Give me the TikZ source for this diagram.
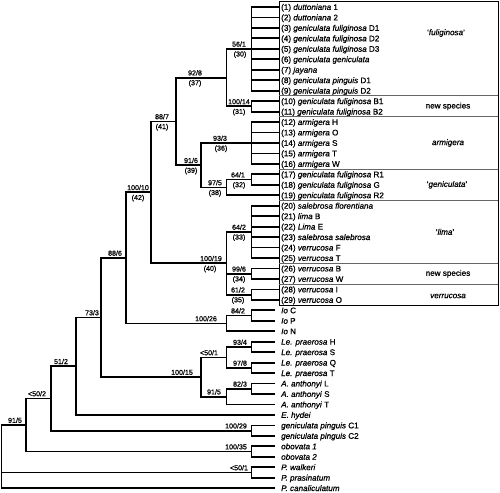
\documentclass[tikz,border=0pt]{standalone}
\usepackage{fontspec}
\setmainfont{Liberation Sans}[FakeBold=0.8]
\begin{document}
\begin{tikzpicture}[x=1pt,y=-10.46pt,
  br/.style={line width=1.8pt},
  tip/.style={anchor=west,inner xsep=2pt,inner ysep=0pt,text height=5.8pt,text depth=0pt,font=\fontsize{8.1}{9}\selectfont},
  otip/.style={tip,inner xsep=6pt},
  lab/.style={anchor=base,inner sep=0pt,font=\fontsize{7.1}{8}\selectfont},
  bs/.style={lab,yshift=2.2pt},
  bb/.style={lab,yshift=-7.6pt},
  grp/.style={font=\fontsize{8.1}{9}\selectfont},
  sep/.style={draw=black!60,line width=0.9pt}]
\useasboundingbox (0,0.3308) rectangle (500,47.3671);
% boxed ingroup
\foreach \i/\t in {1/{(1) \textit{duttoniana} 1}, 2/{(2) \textit{duttoniana} 2},
  3/{(3) \textit{geniculata fuliginosa} D1}, 4/{(4) \textit{geniculata fuliginosa} D2},
  5/{(5) \textit{geniculata fuliginosa} D3}, 6/{(6) \textit{geniculata geniculata}},
  7/{(7) \textit{jayana}}, 8/{(8) \textit{geniculata pinguis} D1},
  9/{(9) \textit{geniculata pinguis} D2}, 10/{(10) \textit{geniculata fuliginosa} B1},
  11/{(11) \textit{geniculata fuliginosa} B2}, 12/{(12) \textit{armigera} H},
  13/{(13) \textit{armigera} O}, 14/{(14) \textit{armigera} S},
  15/{(15) \textit{armigera} T}, 16/{(16) \textit{armigera} W},
  17/{(17) \textit{geniculata fuliginosa} R1}, 18/{(18) \textit{geniculata fuliginosa} G},
  19/{(19) \textit{geniculata fuliginosa} R2}, 20/{(20) \textit{salebrosa florentiana}},
  21/{(21) \textit{lima} B}, 22/{(22) \textit{Lima} E},
  23/{(23) \textit{salebrosa salebrosa}}, 24/{(24) \textit{verrucosa} F},
  25/{(25) \textit{verrucosa} T}, 26/{(26) \textit{verrucosa} B},
  27/{(27) \textit{verrucosa} W}, 28/{(28) \textit{verrucosa} I},
  29/{(29) \textit{verrucosa} O}}
  \node[tip] (l\i) at (279,\i) {\t};
% outgroups
\foreach \i/\t in {30/{\textit{Io} C}, 31/{\textit{Io} P}, 32/{\textit{Io} N},
  33/{\textit{Le. praerosa} H}, 34/{\textit{Le. praerosa} S},
  35/{\textit{Le. praerosa} Q}, 36/{\textit{Le. praerosa} T},
  37/{\textit{A. anthonyi} L}, 38/{\textit{A. anthonyi} S},
  39/{\textit{A. anthonyi} T}, 40/{\textit{E. hydei}},
  41/{\textit{geniculata pinguis} C1}, 42/{\textit{geniculata pinguis} C2},
  43/{\textit{obovata 1}}, 44/{\textit{obovata 2}},
  45/{\textit{P. walkeri}}, 46/{\textit{P. prasinatum}}, 47/{\textit{P. canaliculatum}}}
  \node[otip] (l\i) at (275,\i) {\t};

% internal nodes
\coordinate (fulig) at (251.5,5);
\coordinate (newB) at (251.5,10.5);
\coordinate (armig) at (251.5,14);
\coordinate (genR) at (251.5,17.5);
\coordinate (lima) at (251.5,22.5);
\coordinate (verBW) at (251.5,26.5);
\coordinate (verIO) at (251.5,28.5);
\coordinate (ioCP) at (251.5,30.5);
\coordinate (leHS) at (251.5,33.5);
\coordinate (leQT) at (251.5,35.5);
\coordinate (anLS) at (251.5,37.5);
\coordinate (gpC) at (251.5,41.5);
\coordinate (obov) at (251.5,43.5);
\coordinate (pwp) at (251.5,45.5);
\coordinate (clA) at (226.5,7.75);
\coordinate (genic) at (226.5,18.25);
\coordinate (limaV) at (226.5,25.5);
\coordinate (io) at (226.5,31.25);
\coordinate (lepr) at (226.5,34.5);
\coordinate (anth) at (226.5,38.25);
\coordinate (armG) at (201,16.125);
\coordinate (lean) at (201,36.375);
\coordinate (clB) at (176,11.9375);
\coordinate (clC) at (151,18.719);
\coordinate (clD) at (126,24.984);
\coordinate (clE) at (101,30.680);
\coordinate (clF) at (76,35.340);
\coordinate (clG) at (51,38.420);
\coordinate (clH) at (26,40.960);
\coordinate (root) at (1.5,43.980);

% branches
\foreach \c/\a/\b in {fulig/1/9, newB/10/11, armig/12/16, genR/17/18, lima/20/25,
  verBW/26/27, verIO/28/29, ioCP/30/31, leHS/33/34, leQT/35/36, anLS/37/38,
  gpC/41/42, obov/43/44, pwp/45/46}
  \foreach \i in {\a,...,\b} \draw[br] (\c) |- (l\i.west);
\foreach \p/\c in {genic/l19, io/l32, anth/l39, clF/l40, root/l47}
  \draw[br] (\p) |- (\c.west);
\foreach \p/\c in {clA/fulig, clA/newB, genic/genR, limaV/lima, limaV/verBW, limaV/verIO,
  io/ioCP, lepr/leHS, lepr/leQT, anth/anLS, armG/armig, armG/genic, lean/lepr, lean/anth,
  clB/clA, clB/armG, clC/clB, clC/limaV, clD/clC, clD/io, clE/clD, clE/lean,
  clF/clE, clG/clF, clG/gpC, clH/clG, clH/obov, root/clH, root/pwp}
  \draw[br] (\p) |- (\c);

% support values
\foreach \c/\x/\t in {fulig/239/56\slash1, newB/239/100\slash14, armig/220/93\slash3,
  genR/238/64\slash1, lima/239/64\slash2, verBW/239/99\slash6, verIO/238/61\slash2,
  ioCP/238/84\slash2, leHS/240/93\slash4, leQT/240/97\slash8, anLS/240/82\slash3,
  gpC/236/100\slash29, obov/236/100\slash35, pwp/239/<50\slash1,
  clA/195/92\slash8, genic/215/97\slash5, limaV/211/100\slash19, io/206/100\slash26,
  lepr/209/<50\slash1, anth/214/91\slash5, armG/191/91\slash6, lean/182/100\slash15,
  clB/162/88\slash7, clC/138/100\slash10, clD/115/88\slash6, clE/92/73\slash3,
  clF/61/51\slash2, clG/37/<50\slash2, clH/15/91\slash5}
  \node[bs] (s\c) at (\x,0 |- \c) {\t};
\foreach \c/\x/\t in {fulig/240/30, newB/239/31, armig/221/36, genR/239/32, lima/239/33,
  verBW/239/34, verIO/238/35, clA/195/37, genic/215/38, limaV/210/40, armG/191/39,
  clB/162/41, clC/138/42}
  \node[bb] (b\c) at (\x,0 |- \c) {(\t)};

% clade boxes
\draw[line width=0.9pt] (279,0.5) rectangle (498,29.5);
\foreach \r in {9.5,11.5,16.5,19.5,25.5,27.5}
  \draw[sep] (279,\r) -- (498,\r);
\node[grp] (gFul) at (446,3.49) {`\textit{fuliginosa}'};
\node[grp] (gNew1) at (448,10.5) {new species};
\node[grp] (gArm) at (448,14) {\textit{armigera}};
\node[grp] (gGen) at (447,18) {`\textit{geniculata}'};
\node[grp] (gLim) at (445,22.5) {`\textit{lima}'};
\node[grp] (gNew2) at (448,26.5) {new species};
\node[grp] (gVer) at (448,28.63) {\textit{verrucosa}};
\end{tikzpicture}
\end{document}
